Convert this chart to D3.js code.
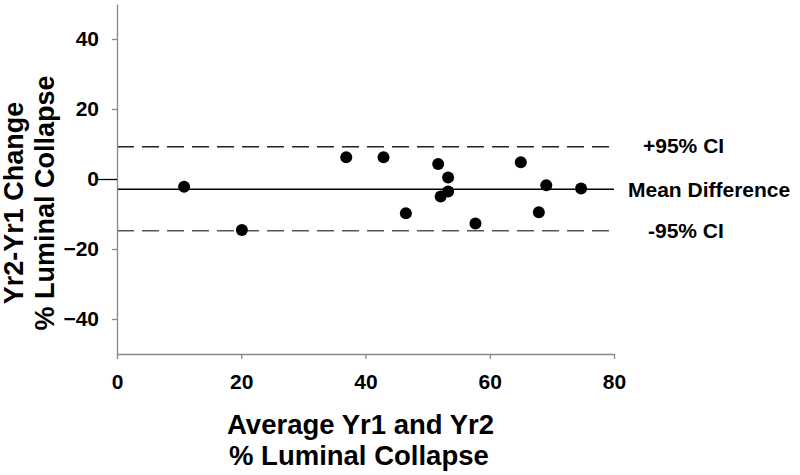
<!DOCTYPE html>
<html>
<head>
<meta charset="utf-8">
<script src="https://cdn.jsdelivr.net/npm/d3@7"></script>
<style>
  body { margin: 0; background: #fff; }
  text { font-family: "Liberation Sans", Arial, sans-serif; font-weight: bold; fill: #000; }
</style>
</head>
<body>
<div id="canvas"></div>
<script>
// average of Yr1 and Yr2 (% luminal collapse)
const avgValues = [10.8, 20.1, 36.9, 42.9, 46.5, 51.7, 53.3, 53.3, 52.1, 57.7, 65.0, 67.9, 69.1, 74.7];
// Yr2 - Yr1 change
const diffValues = [-2.2, -14.6, 6.2, 6.2, -9.8, 4.3, 0.4, -3.6, -5.0, -12.7, 4.8, -9.5, -1.8, -2.7];
const refNames = ["+95% CI", "Mean Difference", "-95% CI"];
const refValues = [9.2, -2.9, -14.8];
const xTicks = [0, 20, 40, 60, 80];
const yTicks = [-40, -20, 0, 20, 40];

const width = 800, height = 475;
const svg = d3.select("#canvas").append("svg")
  .attr("width", width).attr("height", height);

const x = d3.scaleLinear().domain([0, 80]).range([117, 614]);
const y = d3.scaleLinear().domain([-50, 50]).range([354, 4]);

// reference lines
const refStyle = [
  { dash: "17,8", color: "#222", w: 1.4 },
  { dash: null, color: "#000", w: 1.5 },
  { dash: "17,8", color: "#555", w: 1.4 }
];
refValues.forEach((v, i) => {
  svg.append("line")
    .attr("x1", x(0)).attr("x2", x(80))
    .attr("y1", y(v)).attr("y2", y(v))
    .attr("stroke", refStyle[i].color)
    .attr("stroke-width", refStyle[i].w)
    .attr("stroke-dasharray", refStyle[i].dash);
});

const labelX = [643, 628, 648];
const labelDy = [6, 8, 7];
refValues.forEach((v, i) => {
  svg.append("text")
    .attr("x", labelX[i])
    .attr("y", y(v) + labelDy[i])
    .style("font-size", "21px")
    .text(refNames[i]);
});

// axes
const xAxis = svg.append("g")
  .attr("transform", `translate(0,${y(-50)})`)
  .call(d3.axisBottom(x).tickValues(xTicks).tickSize(5).tickPadding(15).tickSizeOuter(0));
const yAxis = svg.append("g")
  .attr("transform", `translate(${x(0)},0)`)
  .call(d3.axisLeft(y).tickValues(yTicks).tickSize(5).tickPadding(13).tickSizeOuter(0));

[xAxis, yAxis].forEach(g => {
  g.select(".domain").attr("stroke", "#888").attr("stroke-width", 1.3);
  g.selectAll(".tick line").attr("stroke", "#888").attr("stroke-width", 1.3);
  g.selectAll(".tick text")
    .attr("fill", "#000")
    .style("font-family", "'Liberation Sans', Arial, sans-serif")
    .style("font-weight", "bold")
    .style("font-size", "21px");
});
xAxis.selectAll(".tick text").attr("dy", "0.71em");
yAxis.selectAll(".tick").filter(d => d === 0).select("line")
  .attr("x2", -19).attr("stroke", "#000");

// points
svg.append("g").selectAll("circle")
  .data(avgValues.map((a, i) => [a, diffValues[i]]))
  .enter().append("circle")
  .attr("cx", d => x(d[0]))
  .attr("cy", d => y(d[1]))
  .attr("r", 6)
  .attr("fill", "#000");

// axis titles
const xTitle = svg.append("text")
  .attr("x", 227).attr("y", 434)
  .style("font-size", "27.5px");
xTitle.append("tspan").attr("x", 227).text("Average Yr1 and Yr2");
xTitle.append("tspan").attr("x", 229).attr("dy", 31).text("% Luminal Collapse");

const yTitle = svg.append("text")
  .attr("transform", "translate(23,203) rotate(-90)")
  .attr("text-anchor", "middle")
  .style("font-size", "27px");
yTitle.append("tspan").attr("x", 0).attr("y", 0).text("Yr2-Yr1 Change");
yTitle.append("tspan").attr("x", 0).attr("y", 31).text("% Luminal Collapse");
</script>
</body>
</html>
